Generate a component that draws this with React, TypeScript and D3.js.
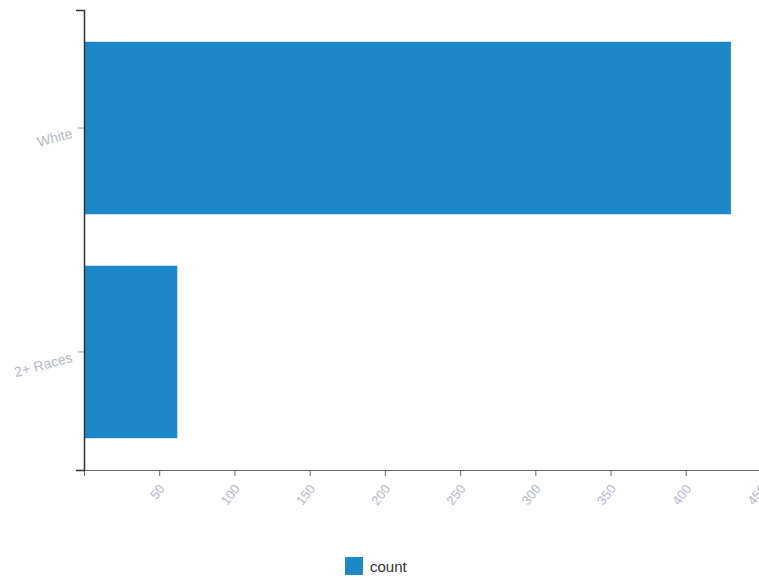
import React, { useEffect, useRef } from "react";
import * as d3 from "d3";

const categories = ["White", "2+ Races"];
const counts = [430, 62];
const xTicks = [50, 100, 150, 200, 250, 300, 350, 400, 450];
const seriesName = "count";

const W = 759;
const H = 580;
const margin = { left: 84, right: -2, top: 10, bottom: 110 };
const barColor = "#1d87c8";
const font = "Liberation Sans, Arial, sans-serif";

export default function App() {
  const ref = useRef<SVGSVGElement>(null);

  useEffect(() => {
    const svg = d3.select(ref.current);
    svg.selectAll("*").remove();
    const x = d3.scaleLinear().domain([0, 450]).range([margin.left, W - margin.right]);
    const y = d3
      .scaleBand<string>()
      .domain(categories)
      .range([margin.top, H - margin.bottom])
      .paddingInner(0.23)
      .paddingOuter(0.142);

    const data = categories.map((c, i) => ({ c, v: counts[i] }));

    svg
      .append("g")
      .selectAll("rect")
      .data(data)
      .join("rect")
      .attr("x", x(0) + 1)
      .attr("y", (d) => y(d.c)!)
      .attr("width", (d) => x(d.v) - x(0) - 1)
      .attr("height", y.bandwidth())
      .attr("fill", barColor);

    const xAxis = svg
      .append("g")
      .attr("transform", `translate(0,${H - margin.bottom})`)
      .call(d3.axisBottom(x).tickValues(xTicks).tickSizeOuter(6));
    xAxis.select(".domain").attr("stroke", "#666");
    xAxis.selectAll(".tick line").attr("stroke", "#666");
    xAxis
      .selectAll(".tick text")
      .attr("fill", "#b4b8c4")
      .attr("font-size", 13)
      .attr("font-family", font)
      .attr("text-anchor", "end")
      .attr("x", 0)
      .attr("y", 0)
      .attr("dy", "0.35em")
      .attr("transform", "translate(2,16) rotate(-52)");

    const yAxis = svg
      .append("g")
      .attr("transform", `translate(${margin.left},0)`)
      .call(d3.axisLeft(y).tickSizeOuter(8));
    yAxis.select(".domain").attr("stroke", "#333").attr("stroke-width", 1.5);
    yAxis.selectAll(".tick line").attr("stroke", "#999");
    yAxis
      .selectAll(".tick text")
      .attr("fill", "#b4b8c4")
      .attr("font-size", 14)
      .attr("font-family", font)
      .attr("x", 0)
      .attr("y", 0)
      .attr("dy", "0.35em")
      .attr("transform", "translate(-12,5) rotate(-15)");

    const lg = svg.append("g").attr("transform", `translate(345,557)`);
    lg.append("rect").attr("width", 18).attr("height", 18).attr("fill", barColor);
    lg.append("text")
      .attr("x", 25)
      .attr("y", 15)
      .attr("font-size", 15)
      .attr("font-family", font)
      .attr("fill", "#333")
      .text(seriesName);
  }, []);

  return (
    <svg
      ref={ref}
      width={W}
      height={H}
      style={{ position: "absolute", left: 0, top: 0, background: "#fff" }}
    />
  );
}
